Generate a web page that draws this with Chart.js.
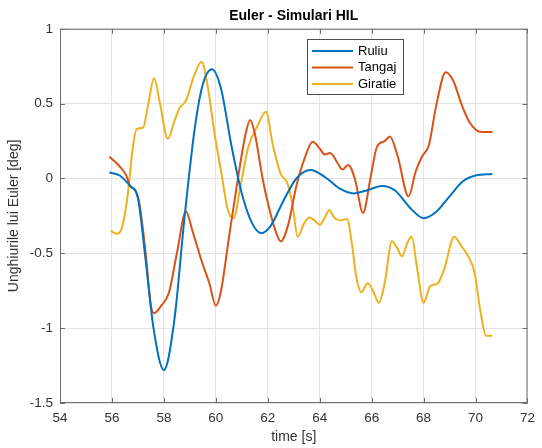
<!DOCTYPE html>
<html lang="ro">
<head>
  <meta charset="UTF-8" />
  <title>Euler - Simulari HIL</title>
  <style>
    body { margin: 0; background: #fff; }
    canvas { display: block; }
  </style>
</head>
<body>
  <canvas id="eulerChart" width="542" height="448"></canvas>

  <script src="https://cdn.jsdelivr.net/npm/chart.js"></script>
  <script>
    // Ruliu (roll)
    const ruliuT = [55.9, 56.3, 56.7, 57.0, 57.3, 57.6, 58.0, 58.4, 58.8, 59.2, 59.5, 59.85, 60.2, 60.6, 61.0, 61.4, 61.75, 62.1, 62.6, 63.1, 63.65, 64.2, 64.8, 65.3, 65.8, 66.4, 66.9, 67.5, 68.0, 68.5, 69.0, 69.5, 70.0, 70.65];
    const ruliuV = [0.04, 0.02, -0.05, -0.13, -0.55, -1.0, -1.28, -0.95, -0.25, 0.35, 0.63, 0.73, 0.6, 0.22, -0.1, -0.3, -0.365, -0.32, -0.15, 0.0, 0.057, 0.01, -0.07, -0.1, -0.08, -0.05, -0.08, -0.2, -0.265, -0.22, -0.12, -0.02, 0.02, 0.03];

    // Tangaj (pitch)
    const tangajT = [55.9, 56.3, 56.55, 56.7, 56.9, 57.05, 57.3, 57.5, 57.62, 57.9, 58.2, 58.5, 58.85, 59.1, 59.45, 59.75, 60.0, 60.2, 60.5, 60.85, 61.15, 61.32, 61.5, 61.8, 62.0, 62.3, 62.5, 62.8, 63.1, 63.45, 63.73, 64.0, 64.2, 64.4, 64.7, 64.87, 65.1, 65.35, 65.67, 65.95, 66.2, 66.5, 66.7, 67.0, 67.42, 67.7, 67.95, 68.2, 68.5, 68.85, 69.15, 69.45, 69.75, 70.05, 70.3, 70.65];
    const tangajV = [0.145, 0.08, 0.02, -0.05, -0.08, -0.16, -0.5, -0.85, -0.9, -0.85, -0.76, -0.5, -0.22, -0.35, -0.55, -0.7, -0.85, -0.75, -0.4, 0.0, 0.3, 0.39, 0.3, 0.0, -0.16, -0.35, -0.42, -0.3, -0.05, 0.15, 0.245, 0.2, 0.16, 0.17, 0.1, 0.06, 0.09, 0.0, -0.23, 0.0, 0.21, 0.25, 0.28, 0.15, -0.12, 0.05, 0.15, 0.22, 0.5, 0.71, 0.65, 0.5, 0.38, 0.32, 0.31, 0.31];

    // Giratie (yaw)
    const giratieT = [55.95, 56.2, 56.4, 56.6, 56.8, 56.95, 57.2, 57.4, 57.62, 57.85, 58.15, 58.4, 58.6, 58.85, 59.15, 59.45, 59.7, 59.95, 60.2, 60.45, 60.68, 60.95, 61.25, 61.6, 61.93, 62.2, 62.5, 62.75, 62.95, 63.15, 63.4, 63.6, 63.8, 64.0, 64.2, 64.37, 64.55, 64.8, 65.05, 65.25, 65.4, 65.6, 65.85, 66.05, 66.28, 66.5, 66.78, 67.0, 67.16, 67.4, 67.54, 67.75, 68.0, 68.25, 68.55, 68.8, 69.18, 69.45, 69.75, 69.95, 70.2, 70.4, 70.65];
    const giratieV = [-0.35, -0.37, -0.32, -0.12, 0.2, 0.33, 0.34, 0.5, 0.67, 0.5, 0.265, 0.38, 0.47, 0.52, 0.68, 0.78, 0.6, 0.3, 0.05, -0.2, -0.265, -0.05, 0.21, 0.35, 0.445, 0.22, 0.03, -0.03, -0.17, -0.39, -0.3, -0.26, -0.28, -0.31, -0.26, -0.21, -0.26, -0.28, -0.27, -0.45, -0.65, -0.76, -0.7, -0.75, -0.83, -0.7, -0.42, -0.47, -0.52, -0.42, -0.39, -0.6, -0.83, -0.72, -0.7, -0.6, -0.39, -0.45, -0.53, -0.62, -0.9, -1.05, -1.05];

    const xTicks = [54, 56, 58, 60, 62, 64, 66, 68, 70, 72];
    const yTicks = [-1.5, -1, -0.5, 0, 0.5, 1];

    function pts(t, v) {
      return t.map((x, i) => ({ x: x, y: v[i] }));
    }

    const FONT = "'Liberation Sans', Arial, sans-serif";

    // box, inward ticks and legend inside the axes (MATLAB style)
    const matlabAxes = {
      id: 'matlabAxes',
      afterDatasetsDraw(chart) {
        const { ctx, chartArea: a, scales } = chart;
        ctx.save();
        ctx.strokeStyle = '#6e6e6e';
        ctx.lineWidth = 1;
        ctx.strokeRect(a.left + 0.5, a.top + 0.5, a.right - a.left - 1, a.bottom - a.top - 1);
        ctx.beginPath();
        xTicks.forEach(v => {
          const px = Math.round(scales.x.getPixelForValue(v)) + 0.5;
          ctx.moveTo(px, a.bottom); ctx.lineTo(px, a.bottom - 5);
          ctx.moveTo(px, a.top); ctx.lineTo(px, a.top + 5);
        });
        yTicks.forEach(v => {
          const py = Math.round(scales.y.getPixelForValue(v)) + 0.5;
          ctx.moveTo(a.left, py); ctx.lineTo(a.left + 5, py);
          ctx.moveTo(a.right, py); ctx.lineTo(a.right - 5, py);
        });
        ctx.stroke();

        // legend
        const lx = 307, ly = 39, lw = 96, lh = 55;
        ctx.fillStyle = '#fff';
        ctx.fillRect(lx, ly, lw, lh);
        ctx.strokeStyle = '#4d4d4d';
        ctx.strokeRect(lx + 0.5, ly + 0.5, lw, lh);
        ctx.font = '13px ' + FONT;
        ctx.textBaseline = 'middle';
        chart.data.datasets.forEach((ds, i) => {
          const y = ly + 12 + i * 16.5;
          ctx.strokeStyle = ds.borderColor;
          ctx.lineWidth = 2;
          ctx.beginPath();
          ctx.moveTo(lx + 5, y); ctx.lineTo(lx + 46, y);
          ctx.stroke();
          ctx.fillStyle = '#000';
          ctx.fillText(ds.label, lx + 51, y);
        });
        ctx.restore();
      }
    };

    const ctx = document.getElementById('eulerChart').getContext('2d');
    new Chart(ctx, {
      type: 'line',
      data: {
        datasets: [
          { label: 'Ruliu', data: pts(ruliuT, ruliuV), borderColor: '#0072BD' },
          { label: 'Tangaj', data: pts(tangajT, tangajV), borderColor: '#D95319' },
          { label: 'Giratie', data: pts(giratieT, giratieV), borderColor: '#EDB120' }
        ]
      },
      options: {
        responsive: false,
        animation: false,
        devicePixelRatio: 1,
        layout: { padding: { left: 0, right: 10, top: 0, bottom: 0 } },
        elements: {
          point: { radius: 0 },
          line: { borderWidth: 2, tension: 0.4, cubicInterpolationMode: 'monotone', fill: false }
        },
        plugins: {
          legend: { display: false },
          tooltip: { enabled: false },
          title: {
            display: true,
            text: 'Euler - Simulari HIL',
            fullSize: false,
            color: '#000',
            font: { family: FONT, size: 14, weight: 'bold' },
            padding: { top: 8, bottom: 4 }
          }
        },
        scales: {
          x: {
            type: 'linear',
            min: 54, max: 72,
            afterBuildTicks: s => { s.ticks = xTicks.map(v => ({ value: v })); },
            afterFit: s => { s.height = 45; },
            ticks: { color: '#333', font: { family: FONT, size: 13.5 }, padding: 7, maxRotation: 0 },
            grid: { color: '#e4e4e4', drawTicks: false },
            border: { display: false },
            title: { display: true, text: 'time [s]', color: '#333', font: { family: FONT, size: 14 }, padding: { top: 0, bottom: 2 } }
          },
          y: {
            min: -1.5, max: 1,
            afterBuildTicks: s => { s.ticks = yTicks.map(v => ({ value: v })); },
            afterFit: s => { s.width = 60; },
            ticks: { color: '#333', font: { family: FONT, size: 13.5 }, padding: 7, callback: v => String(v) },
            grid: { color: '#e4e4e4', drawTicks: false },
            border: { display: false },
            title: { display: true, text: 'Unghiurile lui Euler [deg]', color: '#333', font: { family: FONT, size: 14 }, padding: { top: 6, bottom: 0 } }
          }
        }
      },
      plugins: [matlabAxes]
    });
  </script>
</body>
</html>
